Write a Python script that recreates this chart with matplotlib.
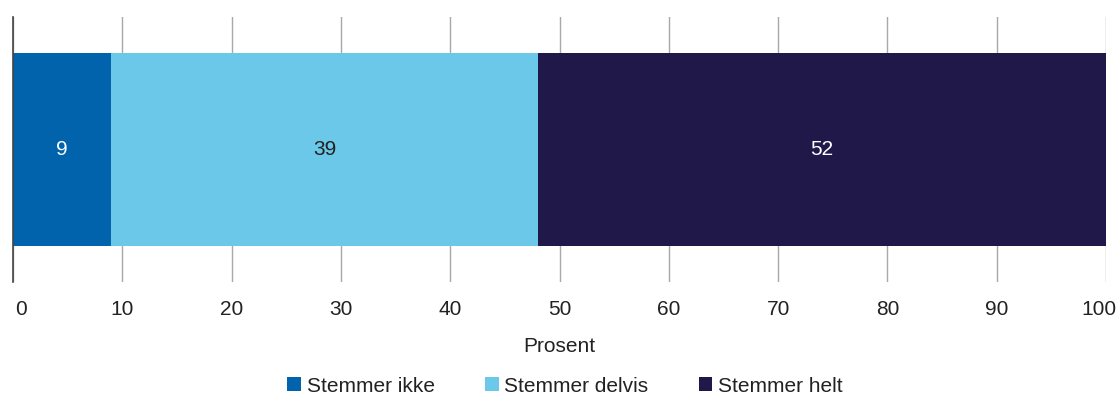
import matplotlib
matplotlib.use("Agg")
import matplotlib.pyplot as plt
import matplotlib.transforms as mtransforms

plt.rcParams['font.family'] = ['Liberation Sans', 'DejaVu Sans']

categories = ["Stemmer ikke", "Stemmer delvis", "Stemmer helt"]
values = [9, 39, 52]
colors = ["#0063AC", "#6BC8E8", "#21184A"]
text_colors = ["white", "#222222", "white"]
ticks = [0, 10, 20, 30, 40, 50, 60, 70, 80, 90, 100]

fig = plt.figure(figsize=(11.18, 3.94), dpi=100)
ax = fig.add_axes([13 / 1118, 1 - 282 / 394, 1093 / 1118, 265 / 394])

left = 0
for cat, val, col, tc in zip(categories, values, colors, text_colors):
    ax.barh(0, val, left=left, height=0.732, color=col, label=cat, zorder=3)
    ax.text(left + val / 2, 0, str(val), ha="center", va="center",
            fontsize=15, color=tc, zorder=4)
    left += val

ax.set_xlim(0, 100)
ax.set_ylim(-0.5, 0.5)
ax.set_yticks([])
ax.set_xticks(ticks)
ax.tick_params(axis="x", length=0, pad=13, labelsize=15, labelcolor="#222222")
ax.grid(axis="x", color="#a8a8a8", linewidth=1, zorder=1)
for s in ["top", "right", "bottom"]:
    ax.spines[s].set_visible(False)
ax.spines["left"].set_color("#444444")
ax.spines["left"].set_linewidth(1.2)
ax.spines["left"].set_zorder(5)

# keep end labels inside the figure
labels = ax.get_xticklabels()
labels[0].set_transform(labels[0].get_transform() +
                        mtransforms.ScaledTranslation(8 / 100, 0, fig.dpi_scale_trans))
labels[-1].set_transform(labels[-1].get_transform() +
                         mtransforms.ScaledTranslation(-7 / 100, 0, fig.dpi_scale_trans))

ax.set_xlabel("Prosent", fontsize=15, color="#222222", labelpad=13)

fig.legend(loc="center", bbox_to_anchor=(0.5054, 1 - 386 / 394), ncol=3, frameon=False,
           fontsize=15, handlelength=0.66, handleheight=0.66, handletextpad=0.28,
           columnspacing=2.4, labelcolor="#222222")

fig.savefig("out.png", dpi=100)
